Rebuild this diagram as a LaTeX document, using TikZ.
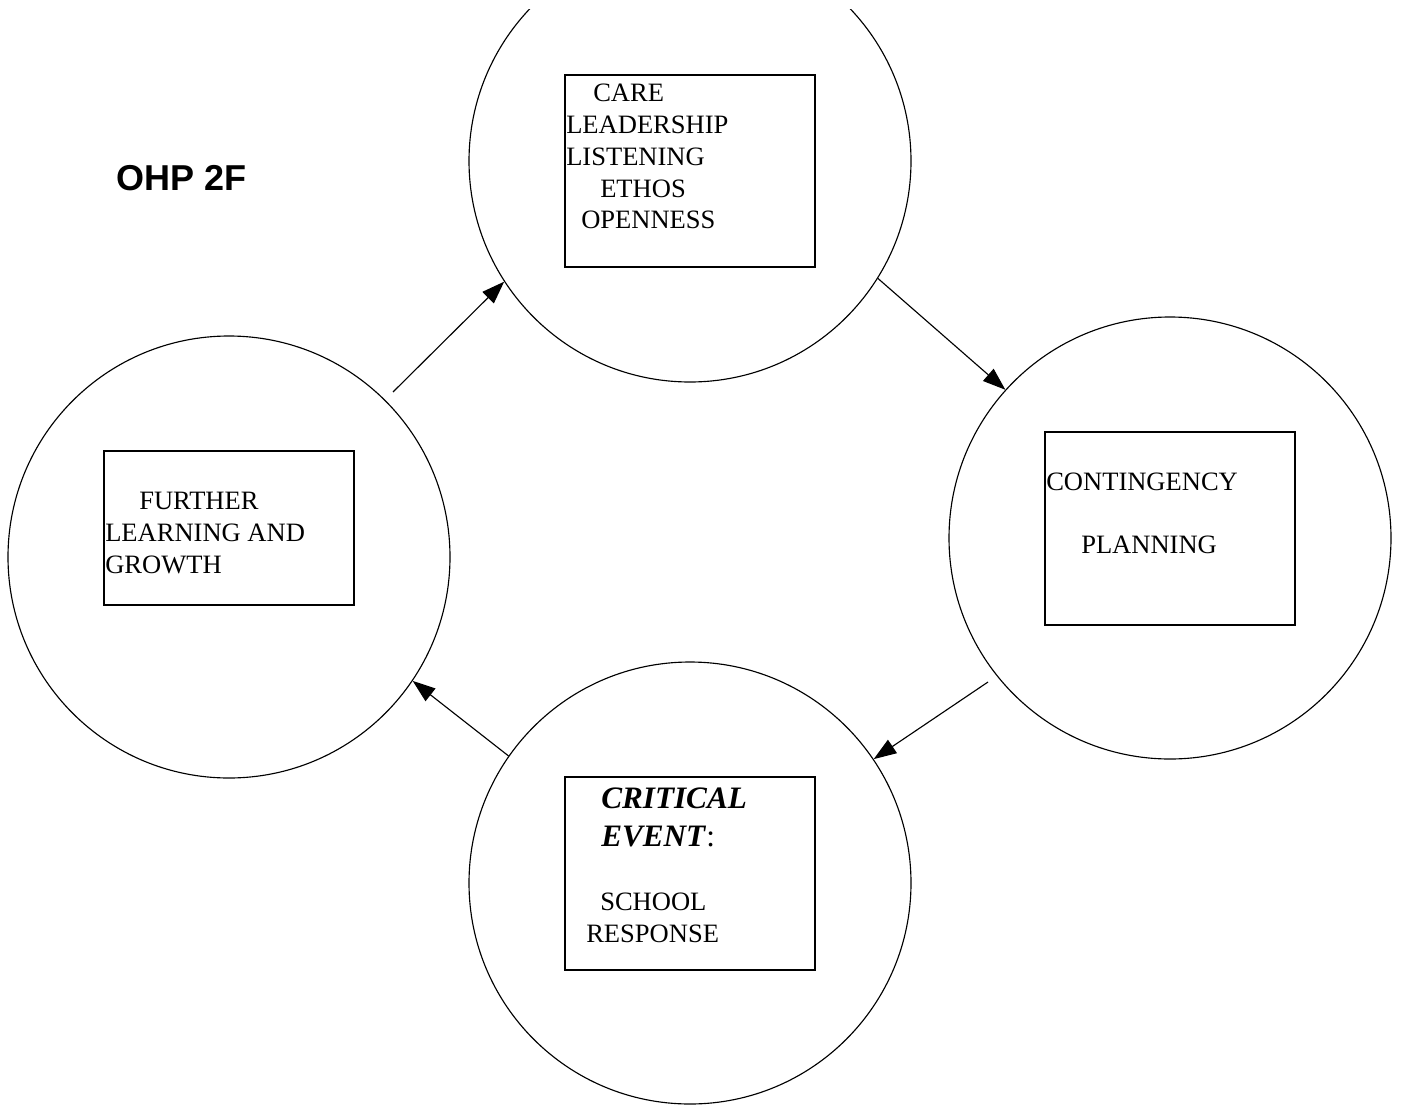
\documentclass[tikz,border=0pt]{standalone}
\usepackage{fontspec}
\setmainfont{Liberation Serif}
\newfontfamily\ohpfont{Liberation Sans}
\usetikzlibrary{arrows.meta}
\tikzset{
  ring/.style={circle, draw, line width=0.85pt, minimum size=331.5pt, inner sep=0pt},
  textbox/.style={rectangle, draw, line width=0.9pt, minimum width=187.5pt, inner sep=0pt},
  line/.style={anchor=base west, inner sep=0pt, font=\fontsize{19.9pt}{24pt}\selectfont},
  bline/.style={anchor=base west, inner sep=0pt, font=\fontsize{23.4pt}{28pt}\selectfont\bfseries\itshape},
  flow/.style={-{Triangle[length=17pt,width=12pt]}, line width=0.85pt}
}
\begin{document}
\begin{tikzpicture}[x=0.75pt,y=-0.75pt]
\useasboundingbox (0,0) rectangle (1406,1106);
% circles
\begin{scope}
  \clip (0,10) rectangle (1406,1106);
  \node[ring] (top) at (690,161) {};
\end{scope}
\node[ring] (right) at (1170,538) {};
\node[ring] (left) at (229,557) {};
\node[ring] (bottom) at (690,883) {};
% boxes
\node[textbox, minimum height=144pt] (topbox) at (690,171) {};
\node[textbox, minimum height=144.75pt] (rightbox) at (1170,528.5) {};
\node[textbox, minimum height=115.5pt] (leftbox) at (229,528) {};
\node[textbox, minimum height=144.75pt] (bottombox) at (690,873.5) {};
% title
\node[anchor=base west, inner sep=0pt, font=\ohpfont\fontsize{27pt}{31pt}\selectfont\bfseries] (title) at (116,190) {OHP 2F};
% top box text
\node[line] (t1) at (593,102) {CARE};
\node[line] (t2) at (566,133) {LEADERSHIP};
\node[line] (t3) at (566,165) {LISTENING};
\node[line] (t4) at (600,197) {ETHOS};
\node[line] (t5) at (581,228) {OPENNESS};
% right box text
\node[line] (r1) at (1046,490) {CONTINGENCY};
\node[line] (r2) at (1081,553) {PLANNING};
% left box text
\node[line] (l1) at (139,509) {FURTHER};
\node[line] (l2) at (105,541) {LEARNING AND};
\node[line] (l3) at (105,573) {GROWTH};
% bottom box text
\node[bline] (b1) at (601,808) {CRITICAL};
\node[bline] (b2) at (601,846) {EVENT\textup{\mdseries:}};
\node[line] (b3) at (600,910) {SCHOOL};
\node[line] (b4) at (586,942) {RESPONSE};
% arrows
\coordinate (a1s) at (393,392);
\coordinate (a3s) at (988,682);
\draw[flow] (a1s) -- (top.213);
\draw[flow] (top.-32.5) -- (right.138.5);
\draw[flow] (a3s) -- (bottom.34.5);
\draw[flow] (bottom.145.3) -- (left.-34.2);
\end{tikzpicture}
\end{document}
